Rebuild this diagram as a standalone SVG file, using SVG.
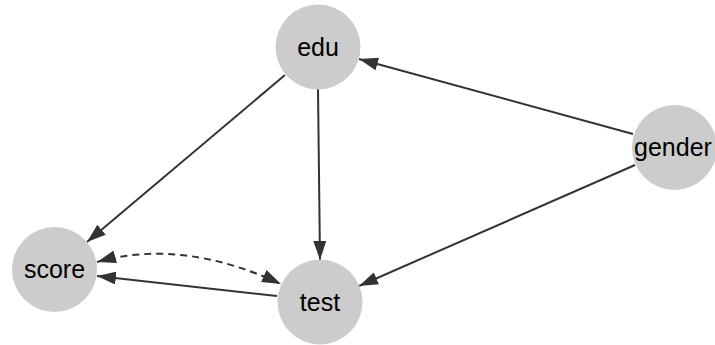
<svg xmlns="http://www.w3.org/2000/svg" width="715" height="345" viewBox="0 0 715 345">
<style>
.node circle{fill:#cccccc;stroke:none}
.node text{font-family:"Liberation Sans",Arial,sans-serif;font-size:25px;fill:#000;text-anchor:middle}
.edge{stroke:#333333;stroke-width:2;fill:none}
.dashed{stroke-dasharray:7,5}
</style>
<defs>
<marker id="arrow" markerUnits="userSpaceOnUse" markerWidth="19" markerHeight="13" viewBox="0 0 19 13" refX="19" refY="6.5" orient="auto-start-reverse">
<path d="M0,0 L19,6.5 L0,13 z" fill="#333333"/>
</marker>
</defs>
<rect width="715" height="345" fill="#ffffff"/>
<g id="connectors">
<line class="edge" x1="285" y1="75" x2="87" y2="242" marker-end="url(#arrow)"/>
<line class="edge" x1="318" y1="89" x2="320" y2="260" marker-end="url(#arrow)"/>
<line class="edge" x1="633" y1="134" x2="359" y2="59" marker-end="url(#arrow)"/>
<line class="edge" x1="635" y1="165" x2="359" y2="286" marker-end="url(#arrow)"/>
<line class="edge" x1="277" y1="296" x2="97" y2="276" marker-end="url(#arrow)"/>
<path class="edge dashed" d="M97,262 Q182,238 281,284" marker-start="url(#arrow)" marker-end="url(#arrow)"/>
</g>
<g id="edu" class="node"><circle cx="318" cy="47" r="42.5"/><text x="318" y="56">edu</text></g>
<g id="gender" class="node"><circle cx="674.5" cy="147.5" r="42.5"/><text x="673" y="156">gender</text></g>
<g id="score" class="node"><circle cx="54.5" cy="269.5" r="42.5"/><text x="54.5" y="278">score</text></g>
<g id="test" class="node"><circle cx="320" cy="302" r="42.5"/><text x="320" y="311">test</text></g>
</svg>
